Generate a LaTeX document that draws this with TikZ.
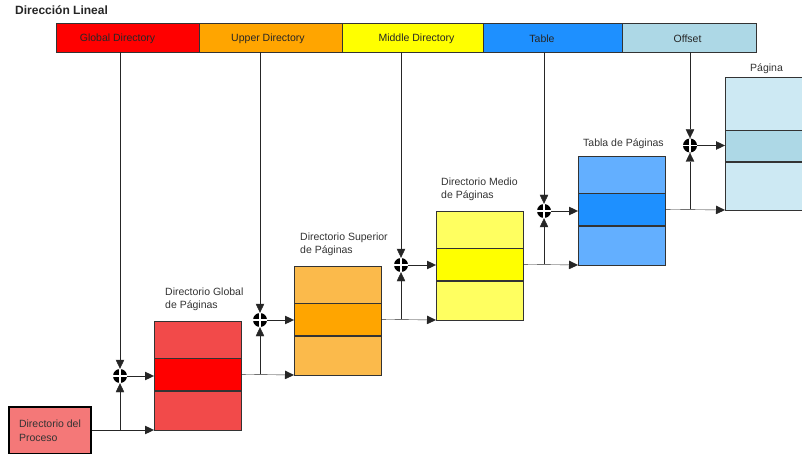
\documentclass[tikz,border=0pt]{standalone}
\usepackage{fontspec}
\setmainfont{Liberation Sans}
\usetikzlibrary{arrows.meta}

\definecolor{gdDark}{HTML}{FF0000}
\definecolor{gdLight}{HTML}{F24A4A}
\definecolor{udDark}{HTML}{FFA500}
\definecolor{udLight}{HTML}{FBBA4B}
\definecolor{mdDark}{HTML}{FFFF00}
\definecolor{mdLight}{HTML}{FFFF60}
\definecolor{tbDark}{HTML}{1E90FF}
\definecolor{tbLight}{HTML}{63AFFF}
\definecolor{pgDark}{HTML}{ADD8E6}
\definecolor{pgLight}{HTML}{CDE9F3}
\definecolor{procRed}{HTML}{F47878}

\tikzset{
  seg/.style={draw=black!80, minimum width=#1, minimum height=29pt, inner sep=0pt},
  segtext/.style={inner sep=0pt, yshift=-1.5pt, text=black!85, font=\fontsize{10.5}{13}\selectfont},
  row/.style={draw=black!80, minimum width=87pt, minimum height=#1, inner sep=0pt, anchor=south west},
  adder/.style={circle, fill=black, minimum size=14pt, inner sep=0pt,
    path picture={\draw[white, line width=1.6pt]
      (path picture bounding box.north) -- (path picture bounding box.south)
      (path picture bounding box.east) -- (path picture bounding box.west);}},
  link/.style={-{Triangle[length=9pt,width=8.5pt]}, black!85},
  caption/.style={anchor=north west, align=left, inner sep=0pt, text=black!80,
    font=\fontsize{10.5}{13}\selectfont}
}

\begin{document}
\begin{tikzpicture}[x=1pt, y=-1pt]
  \clip (0,0) rectangle (802,454);
  % linear address
  \node[anchor=base west, inner sep=0pt, font=\fontsize{12}{14}\selectfont\bfseries, text=black!85]
    (title) at (15,14.3) {Dirección Lineal};
  \node[seg=143pt, fill=gdDark, label={[segtext, xshift=-10pt]center:Global Directory}] (gd) at (127.5,37.5) {};
  \node[seg=143pt, fill=udDark, label={[segtext, xshift=-2.5pt]center:Upper Directory}] (ud) at (270.5,37.5) {};
  \node[seg=141pt, fill=mdDark, label={[segtext, xshift=4pt]center:Middle Directory}] (md) at (412.5,37.5) {};
  \node[seg=139pt, fill=tbDark, label={[segtext, xshift=-10.5pt]center:Table}] (tb) at (552.5,37.5) {};
  \node[seg=134pt, fill=pgDark, label={[segtext, xshift=-1.5pt]center:Offset}] (of) at (689,37.5) {};
  % tables (bottom / middle / top rows)
  \foreach \n/\x/\y/\cl/\cd in {gd/154/430/gdLight/gdDark, ud/294/375/udLight/udDark,
                               md/436/320/mdLight/mdDark, tb/578/265/tbLight/tbDark} {
    \node[row=39pt, fill=\cl] (\n-b) at (\x,\y) {};
    \node[row=32pt, fill=\cd] (\n-m) at (\n-b.north west) {};
    \node[row=37pt, fill=\cl] (\n-t) at (\n-m.north west) {};
  }
  \node[row=48pt, fill=pgLight, minimum width=100pt] (pg-b) at (725,210) {};
  \node[row=31pt, fill=pgDark, minimum width=100pt] (pg-m) at (pg-b.north west) {};
  \node[row=53pt, fill=pgLight, minimum width=100pt] (pg-t) at (pg-m.north west) {};
  \node[caption] at (165,288) {Directorio Global\\de Páginas};
  \node[caption] at (300,233) {Directorio Superior\\de Páginas};
  \node[caption] at (441,178) {Directorio Medio\\de Páginas};
  \node[caption] at (583,139) {Tabla de Páginas};
  \node[caption] at (750,64) {Página};
  % process directory
  \node[draw=black, line width=1.5pt, fill=procRed, minimum width=82pt, minimum height=47pt,
    align=left, text=black!80, font=\fontsize{10.5}{13.5}\selectfont] (proc) at (50,430.5)
    {Directorio del\\Proceso};
  % adders
  \node[adder] (ag) at (120,376) {};
  \node[adder] (au) at (260,320) {};
  \node[adder] (am) at (401,265) {};
  \node[adder] (ab) at (544,211) {};
  \node[adder] (ao) at (690,145.5) {};
  % connectors
  \draw[link] (proc.east |- gd-b.south) -- (gd-b.south west);
  \draw[link] (ag |- gd-b.south) -- (ag);
  \foreach \a/\s in {ag/gd, au/ud, am/md, ab/tb, ao/of}
    \draw[link] (\a |- \s.south) -- (\a);
  \foreach \a/\t in {ag/gd, au/ud, am/md, ab/tb, ao/pg}
    \draw[link] (\a) -- (\a -| \t-m.west);
  \foreach \p/\q/\a in {gd/ud/au, ud/md/am, md/tb/ab, tb/pg/ao} {
    \draw[link] (\p-m.east) -- (\q-b.south west);
    \draw[link] (\a |- \p-m.east) -- (\a);
  }
\end{tikzpicture}
\end{document}
